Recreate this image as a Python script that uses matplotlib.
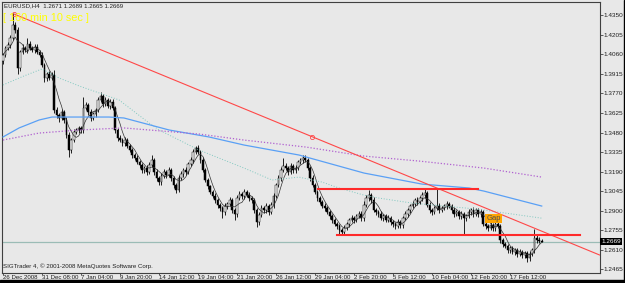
import numpy as np
import pandas as pd
import matplotlib
matplotlib.use('Agg')
import matplotlib.pyplot as plt
from matplotlib.patches import Rectangle

plt.rcParams['font.family'] = ['Liberation Sans', 'DejaVu Sans']

# EURUSD H4 closes (one per bar)
closes = [
    1.4056, 1.4108, 1.4131, 1.4183, 1.4279, 1.4242, 1.3960, 1.4079, 1.4108, 1.4094, 1.4138, 1.4108, 1.4094, 1.4116, 1.4079, 1.4056,
    1.3982, 1.3885, 1.3915, 1.3885, 1.3908, 1.3647, 1.3610, 1.3588, 1.3633, 1.3573, 1.3462, 1.3350, 1.3424, 1.3484, 1.3499, 1.3514,
    1.3499, 1.3662, 1.3685, 1.3633, 1.3588, 1.3618, 1.3647, 1.3722, 1.3752, 1.3692, 1.3722, 1.3677, 1.3707, 1.3662, 1.3499, 1.3439,
    1.3424, 1.3402, 1.3424, 1.3380, 1.3350, 1.3313, 1.3291, 1.3261, 1.3239, 1.3201, 1.3216, 1.3186, 1.3239, 1.3276, 1.3186, 1.3142,
    1.3112, 1.3157, 1.3186, 1.3164, 1.3201, 1.3142, 1.3090, 1.3053, 1.3142, 1.3172, 1.3201, 1.3186, 1.3246, 1.3276, 1.3335, 1.3365,
    1.3335, 1.3276, 1.3201, 1.3127, 1.3082, 1.3038, 1.3008, 1.2978, 1.2941, 1.2919, 1.2889, 1.2934, 1.2949, 1.2978, 1.2904, 1.2874,
    1.2993, 1.3023, 1.3008, 1.3038, 1.3015, 1.2993, 1.2978, 1.2904, 1.2815, 1.2867, 1.2919, 1.2904, 1.2934, 1.2889, 1.2941, 1.3008,
    1.3090, 1.3142, 1.3201, 1.3231, 1.3216, 1.3186, 1.3231, 1.3201, 1.3216, 1.3261, 1.3276, 1.3291, 1.3276, 1.3216, 1.3142, 1.3090,
    1.3038, 1.2993, 1.2963, 1.2934, 1.2919, 1.2889, 1.2859, 1.2830, 1.2800, 1.2785, 1.2755, 1.2740, 1.2770, 1.2800, 1.2830, 1.2844,
    1.2830, 1.2859, 1.2874, 1.2844, 1.2941, 1.2993, 1.3015, 1.2978, 1.2904, 1.2889, 1.2874, 1.2844, 1.2859, 1.2830, 1.2844, 1.2815,
    1.2800, 1.2785, 1.2815, 1.2792, 1.2844, 1.2874, 1.2904, 1.2934, 1.2949, 1.2978, 1.2963, 1.2993, 1.3015, 1.3030, 1.2941, 1.2904,
    1.2889, 1.2919, 1.2934, 1.2904, 1.2919, 1.2934, 1.2949, 1.2934, 1.2904, 1.2874, 1.2889, 1.2859, 1.2874, 1.2844, 1.2859, 1.2889,
    1.2904, 1.2874, 1.2904, 1.2874, 1.2889, 1.2800, 1.2785, 1.2770, 1.2792, 1.2770, 1.2800, 1.2785, 1.2681, 1.2651, 1.2636, 1.2607,
    1.2621, 1.2592, 1.2607, 1.2577, 1.2592, 1.2569, 1.2584, 1.2547, 1.2577, 1.2607, 1.2696, 1.2681, 1.2671, 1.2669,
]
first_open = 1.4010

# wick lengths in pips above / below the body
upper_wick = [
    15, 12, 20, 18, 90, 20, 25, 15, 30, 12, 45, 20, 15, 18, 22, 15,
    20, 15, 18, 25, 20, 40, 25, 15, 20, 15, 25, 20, 15, 20, 12, 18,
    15, 82, 20, 15, 22, 18, 15, 20, 29, 15, 20, 18, 25, 20, 15, 18,
    20, 15, 25, 15, 12, 18, 15, 20, 12, 18, 15, 20, 25, 37, 15, 20,
    18, 20, 25, 15, 20, 18, 15, 12, 20, 25, 15, 20, 18, 22, 20, 15,
    25, 15, 20, 15, 18, 12, 15, 20, 15, 18, 15, 20, 18, 22, 15, 18,
    25, 20, 18, 25, 15, 20, 15, 18, 15, 25, 20, 18, 20, 15, 22, 20,
    18, 20, 25, 60, 20, 18, 25, 15, 20, 18, 15, 22, 25, 18, 15, 20,
    15, 18, 12, 15, 20, 15, 12, 18, 15, 12, 15, 18, 20, 18, 15, 20,
    18, 15, 20, 25, 30, 20, 38, 15, 20, 15, 18, 20, 15, 18, 20, 15,
    18, 15, 20, 15, 18, 20, 15, 18, 20, 15, 25, 18, 20, 30, 15, 20,
    15, 18, 126, 20, 15, 18, 20, 15, 18, 20, 15, 18, 20, 15, 18, 20,
    15, 20, 18, 15, 20, 15, 18, 15, 20, 18, 15, 20, 15, 12, 18, 15,
    20, 15, 18, 15, 20, 15, 18, 15, 20, 18, 67, 25, 20, 18,
]
lower_wick = [
    20, 15, 12, 20, 18, 25, 45, 20, 15, 18, 20, 15, 18, 20, 15, 18,
    15, 30, 20, 18, 15, 25, 20, 30, 18, 20, 25, 52, 20, 15, 18, 20,
    25, 20, 18, 20, 25, 18, 20, 15, 18, 20, 15, 18, 20, 15, 25, 20,
    18, 25, 20, 15, 18, 20, 15, 18, 20, 25, 18, 20, 15, 18, 20, 25,
    20, 18, 15, 20, 18, 25, 20, 23, 18, 15, 20, 18, 15, 18, 20, 15,
    18, 20, 15, 18, 20, 18, 15, 20, 18, 20, 45, 18, 20, 15, 25, 44,
    18, 15, 20, 18, 15, 20, 18, 25, 35, 20, 15, 25, 18, 20, 15, 18,
    15, 18, 20, 15, 18, 20, 15, 18, 20, 15, 18, 20, 15, 18, 20, 15,
    18, 20, 15, 18, 20, 15, 18, 20, 15, 18, 37, 22, 18, 15, 20, 18,
    20, 18, 15, 20, 18, 15, 20, 18, 15, 20, 18, 15, 20, 18, 15, 20,
    18, 20, 15, 18, 20, 15, 18, 20, 15, 18, 20, 15, 18, 20, 15, 18,
    20, 15, 18, 20, 15, 18, 20, 15, 18, 20, 15, 18, 20, 126, 18, 15,
    18, 20, 15, 18, 20, 15, 18, 20, 15, 18, 20, 15, 18, 20, 15, 18,
    20, 15, 18, 20, 15, 18, 20, 30, 18, 15, 20, 18, 15, 4,
]

# moving averages (bar index, price)
ma_cyan_x = [0, 8.6, 16, 23, 31.2, 39.4, 47.6, 59.9, 64, 80.4, 98.9, 110.4, 121.4, 130.9, 137.8, 148.1, 154.3, 167.8, 190, 197.3, 221]
ma_cyan_y = [1.3833, 1.3900, 1.3952, 1.3885, 1.3826, 1.3774, 1.3722, 1.3551, 1.3499, 1.3350, 1.3216, 1.3127, 1.3149, 1.3112,
             1.3068, 1.3015, 1.2993, 1.2956, 1.2919, 1.2904, 1.2844]
ma_blue_x = [0, 6.6, 14.8, 20.1, 31.2, 43.5, 49.6, 68.1, 84.5, 98.9, 121.4, 148.1, 171.9, 191.2, 197.3, 221]
ma_blue_y = [1.3447, 1.3514, 1.3573, 1.3595, 1.3595, 1.3595, 1.3588, 1.3499, 1.3447, 1.3387, 1.3313, 1.3179, 1.3097, 1.3068,
             1.3045, 1.2934]
ma_purple_x = [0, 14.8, 31.2, 49.6, 80.4, 98.9, 124.3, 148.1, 170.7, 197.3, 221]
ma_purple_y = [1.3424, 1.3476, 1.3499, 1.3514, 1.3469, 1.3424, 1.3372, 1.3305, 1.3268, 1.3216, 1.3149]

# drawn objects
trend_x = [4.5, 126.8]
trend_y = [1.4360, 1.3449]
resist_x = [129.2, 194.9]
resist_y = 1.3062
support_x = [137.0, 236.7]
support_y = 1.2717
gap_x = [197.7, 204.8]
gap_y = [1.2806, 1.2873]
bid = 1.2669

price_ticks = [1.4350, 1.4205, 1.4060, 1.3915, 1.3770, 1.3625, 1.3480, 1.3335, 1.3190, 1.3045, 1.2900, 1.2755, 1.2610, 1.2465]
date_labels = ['26 Dec 2008', '31 Dec 08:00', '7 Jan 04:00', '9 Jan 20:00', '14 Jan 12:00', '19 Jan 04:00', '21 Jan 20:00',
               '26 Jan 12:00', '29 Jan 04:00', '2 Feb 20:00', '5 Feb 12:00', '10 Feb 04:00', '12 Feb 20:00', '17 Feb 12:00']

bg = '#e8e8e8'
fig = plt.figure(figsize=(6.25, 2.83), dpi=100, facecolor=bg)
ax = fig.add_axes([2 / 625, 10.5 / 283, 597.5 / 625, 271 / 283])
ax.set_facecolor(bg)

close = np.array(closes)
bars = np.arange(len(close))
opn = np.r_[first_open, close[:-1]]
high = np.maximum(opn, close) + np.array(upper_wick) / 10000
low = np.minimum(opn, close) - np.array(lower_wick) / 10000

# candles
ax.vlines(bars, low, high, color='black', lw=0.6, zorder=3)
body_lo = np.minimum(opn, close)
body_h = np.maximum(np.abs(close - opn), 0.0001)
cols = np.where(close >= opn, 'white', 'black')
ax.bar(bars, body_h, bottom=body_lo, width=0.7, color=cols, edgecolor='black', lw=0.35, zorder=4)

# indicators
fast = pd.Series(close).rolling(5, min_periods=1).mean()
ax.plot(bars, fast, color='#303030', lw=0.5, zorder=5)
ax.plot(ma_cyan_x, ma_cyan_y, color='#80c8c0', lw=0.7, ls=(0, (1, 1.8)), zorder=5)
ax.plot(ma_blue_x, ma_blue_y, color='#5aa0f5', lw=0.9, zorder=5)
ax.plot(ma_purple_x, ma_purple_y, color='#b060d0', lw=0.9, ls=(0, (1, 1.5)), zorder=5)

# bid line
ax.axhline(bid, color='#9bbcb6', lw=0.9, zorder=2)

xmin, xmax = -0.41, 244.7
ymin, ymax = 1.24405, 1.4453

# trend line as a ray to the right edge
slope = (trend_y[1] - trend_y[0]) / (trend_x[1] - trend_x[0])
ax.plot([trend_x[0], xmax], [trend_y[0], trend_y[0] + slope * (xmax - trend_x[0])], color='#ff4848', lw=0.8, zorder=6)
ax.plot(trend_x, trend_y, 'o', mfc='none', mec='#ff4848', ms=3, mew=0.6, zorder=6)

ax.plot(resist_x, [resist_y, resist_y], color='#ff2a2a', lw=1.5, zorder=6)
ax.plot(support_x, [support_y, support_y], color='#ff2a2a', lw=1.5, zorder=6)

ax.add_patch(Rectangle((gap_x[0], gap_y[0]), gap_x[1] - gap_x[0], gap_y[1] - gap_y[0],
                       facecolor='#ffa500', edgecolor='none', zorder=7))
ax.text(gap_x[0] + 0.6, (gap_y[0] + gap_y[1]) / 2, 'Gap', fontsize=5.5, color='#505050', va='center', ha='left', zorder=8)

ax.set_xlim(xmin, xmax)
ax.set_ylim(ymin, ymax)

ax.yaxis.tick_right()
ax.set_yticks(price_ticks)
ax.set_yticklabels(['%.4f' % p for p in price_ticks])
ax.set_xticks(np.arange(len(date_labels)) * 16)
ax.set_xticklabels(date_labels, ha='left')
ax.tick_params(axis='y', labelsize=4.6, length=2, pad=1, colors='#202020', width=0.5)
ax.tick_params(axis='x', labelsize=4.4, length=1.5, pad=0.2, colors='#202020', width=0.5)
for s in ax.spines.values():
    s.set_color('#404040')
    s.set_linewidth(0.8)

# bid price box on the axis
ax.text(1.003, bid, '%.4f' % bid, transform=ax.get_yaxis_transform(), fontsize=4.6, color='white', va='center', ha='left',
        bbox=dict(boxstyle='square,pad=0.15', facecolor='black', edgecolor='none'), zorder=10)

fig.text(4 / 625, 1 - 6 / 283, 'EURUSD,H4  1.2671 1.2689 1.2665 1.2669', fontsize=4.4, va='center', ha='left', color='#202020')
fig.text(3 / 625, 1 - 18 / 283, '[ 160 min 10 sec ]', fontsize=7.8, va='center', ha='left', color='#ffff00')
fig.text(3 / 625, 1 - 266 / 283, 'SIGTrader 4, \u00a9 2001-2008 MetaQuotes Software Corp.', fontsize=4.4, va='center', ha='left',
         color='#202020')

# window border strips
fig.patches.append(Rectangle((0, 0), 1, 3.5 / 283, transform=fig.transFigure, color='black'))
fig.patches.append(Rectangle((1 - 1.5 / 625, 0), 1.5 / 625, 1, transform=fig.transFigure, color='black'))

fig.savefig('out.png', dpi=100, facecolor=bg)
